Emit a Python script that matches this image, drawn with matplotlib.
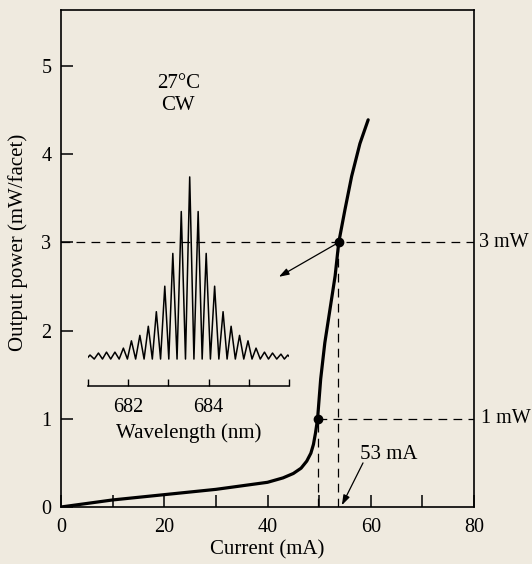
import matplotlib
matplotlib.use("Agg")
import matplotlib.pyplot as plt

plt.rcParams['font.family'] = ['Liberation Serif', 'DejaVu Serif']
bg = '#efeadf'

# L-I curve
current = [0, 10, 20, 30, 40, 43, 45, 46.5, 47.6, 48.4, 48.9, 49.3, 49.7,
           50.3, 51.1, 52.1, 53.1, 53.8, 55.0, 56.3, 57.9, 59.5]
power = [0, 0.08, 0.14, 0.20, 0.28, 0.33, 0.38, 0.44, 0.52, 0.61, 0.71, 0.84,
         1.0, 1.45, 1.86, 2.24, 2.62, 3.0, 3.37, 3.75, 4.12, 4.39]
mark_i = [49.7, 53.8]
mark_p = [1.0, 3.0]
i_1mw = 49.7
i_3mw = 53.7

# inset spectrum: mode wavelengths (nm) and peak heights (a.u.)
modes = [681.05, 681.26, 681.46, 681.67, 681.88, 682.08, 682.29, 682.50,
         682.70, 682.91, 683.11, 683.32, 683.53, 683.74, 683.94, 684.15,
         684.36, 684.56, 684.77, 684.98, 685.18, 685.39, 685.59, 685.80,
         685.97]
heights = [0.022, 0.033, 0.038, 0.038, 0.06, 0.10, 0.13, 0.18, 0.26, 0.40,
           0.58, 0.81, 1.00, 0.81, 0.58, 0.40, 0.26, 0.18, 0.13, 0.10, 0.06,
           0.038, 0.033, 0.027, 0.022]

fig = plt.figure(figsize=(5.32, 5.64), dpi=100, facecolor=bg)
ax = fig.add_axes([61/532, 57/564, 413/532, 497/564])
ax.set_facecolor(bg)

ax.plot(current, power, color='black', lw=2.3, solid_capstyle='round',
        solid_joinstyle='round', zorder=5)
ax.plot(mark_i, mark_p, 'o', color='black', ms=6, zorder=6)

dash = dict(color='black', lw=0.9, dashes=(7, 5), zorder=3)
ax.plot([0, 80], [3, 3], **dash)
ax.plot([i_1mw, 80], [1, 1], **dash)
ax.plot([i_1mw, i_1mw], [0, 1], **dash)
ax.plot([i_3mw, i_3mw], [0, 3], **dash)

ax.set_xlim(0, 80)
ax.set_ylim(0, 5.635)
ax.set_xticks(range(0, 81, 10))
ax.set_xticklabels(['0', '', '20', '', '40', '', '60', '', '80'])
ax.set_yticks(range(0, 6))
ax.tick_params(direction='in', length=8.5, width=1.1, labelsize=14.5)
ax.tick_params(axis='x', pad=8)
ax.tick_params(axis='y', pad=7)
for s in ax.spines.values():
    s.set_linewidth(1.2)

ax.set_xlabel('Current (mA)', fontsize=15, labelpad=2)
ax.text(-0.104, 0.533, 'Output power (mW/facet)', transform=ax.transAxes,
        rotation=90, ha='center', va='center', fontsize=15)

ax.text(1.012, 3, '3 mW', transform=ax.get_yaxis_transform(), ha='left',
        va='center', fontsize=14.5, clip_on=False)
ax.text(1.017, 1, '1 mW', transform=ax.get_yaxis_transform(), ha='left',
        va='center', fontsize=14.5, clip_on=False)
ax.text(63.5, 0.59, '53 mA', ha='center', va='center', fontsize=15)
ax.annotate('', xy=(54.4, 0.02), xytext=(58.5, 0.50),
            arrowprops=dict(arrowstyle='-|>,head_length=0.6,head_width=0.2',
                            color='black', lw=0.9, shrinkA=0, shrinkB=0))
ax.annotate('', xy=(42.2, 2.61), xytext=(53.8, 3.0),
            arrowprops=dict(arrowstyle='-|>,head_length=0.6,head_width=0.2',
                            color='black', lw=0.9, shrinkA=0, shrinkB=0))
ax.text(22.7, 4.8, '27°C', ha='center', va='center', fontsize=15)
ax.text(22.7, 4.55, 'CW', ha='center', va='center', fontsize=15)

# inset
ins = fig.add_axes([88/532, 178/564, 201/532, 216/564])
ins.patch.set_alpha(0)
wl = [680.96]
amp = [0.0]
for k, (m, h) in enumerate(zip(modes, heights)):
    wl.append(m)
    amp.append(h)
    if k < len(modes) - 1:
        wl.append((m + modes[k + 1]) / 2)
        amp.append(0.0)
wl.append(686.07)
amp.append(0.0)
ins.plot(wl, amp, color='black', lw=1.1)
ins.set_xlim(681, 686)
ins.set_ylim(-0.148, 1.038)
for side in ['top', 'left', 'right']:
    ins.spines[side].set_visible(False)
ins.spines['bottom'].set_linewidth(1.1)
ins.set_yticks([])
ins.set_xticks([681, 682, 683, 684, 685, 686])
ins.set_xticklabels(['', '682', '', '684', '', ''])
ins.tick_params(axis='x', direction='in', length=5, width=1.0, labelsize=14.5, pad=9)
ins.set_xlabel('Wavelength (nm)', fontsize=15, labelpad=4)

fig.savefig('out.png', dpi=100, facecolor=bg)
